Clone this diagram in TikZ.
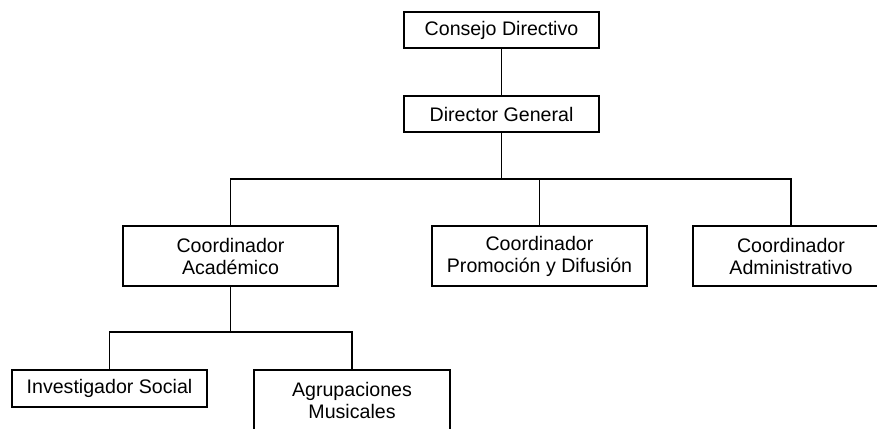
\documentclass[tikz,border=0pt]{standalone}
\usepackage{fontspec}
\setmainfont{Liberation Sans}
\usetikzlibrary{positioning}

\begin{document}
\begin{tikzpicture}[x=0.5pt, y=-0.5pt,
    box/.style={draw, line width=0.55pt, align=center, inner sep=0pt,
                font=\fontsize{9.8}{11}\selectfont},
    small/.style={box, minimum width=97.5pt, minimum height=18pt},
    wide/.style={box, minimum width=107.5pt, minimum height=30pt},
    link/.style={line width=0.55pt}]
            \clip (0,0) rectangle (877,428);
            \useasboundingbox (0,0) rectangle (877,428);

            \node[small] (consejo) at (501.5, 30) {Consejo Directivo};
            \node[small] (director) at (501.5, 114) {Director General};
            \node[wide] (academico) at (230.5, 256) {Coordinador\\Académico};
            \node[wide] (promocion) at (539.5, 256) {Coordinador\\Promoción y Difusión};
            \node[wide, minimum width=98pt] (admin) at (791, 256) {Coordinador\\Administrativo};
            \node[small, minimum height=18.5pt] (investigador) at (109.5, 388.5) {Investigador Social};
            \node[wide, minimum width=98pt] (agrupaciones) at (352, 400) {Agrupaciones\\Musicales};

            \coordinate (bus1) at (506, 179);
            \coordinate (bus2) at (230, 332);

            \draw[link] (consejo) -- (director);
            \draw[link] (director.south) -- (director.south |- bus1);
            \draw[link] (academico.north) |- (admin.north |- bus1) -- (admin.north);
            \draw[link] (promocion.north) -- (promocion.north |- bus1);
            \draw[link] (academico.south) -- (academico.south |- bus2);
            \draw[link] (investigador.north) |- (agrupaciones.north |- bus2) -- (agrupaciones.north);
    	\end{tikzpicture}
\end{document}
